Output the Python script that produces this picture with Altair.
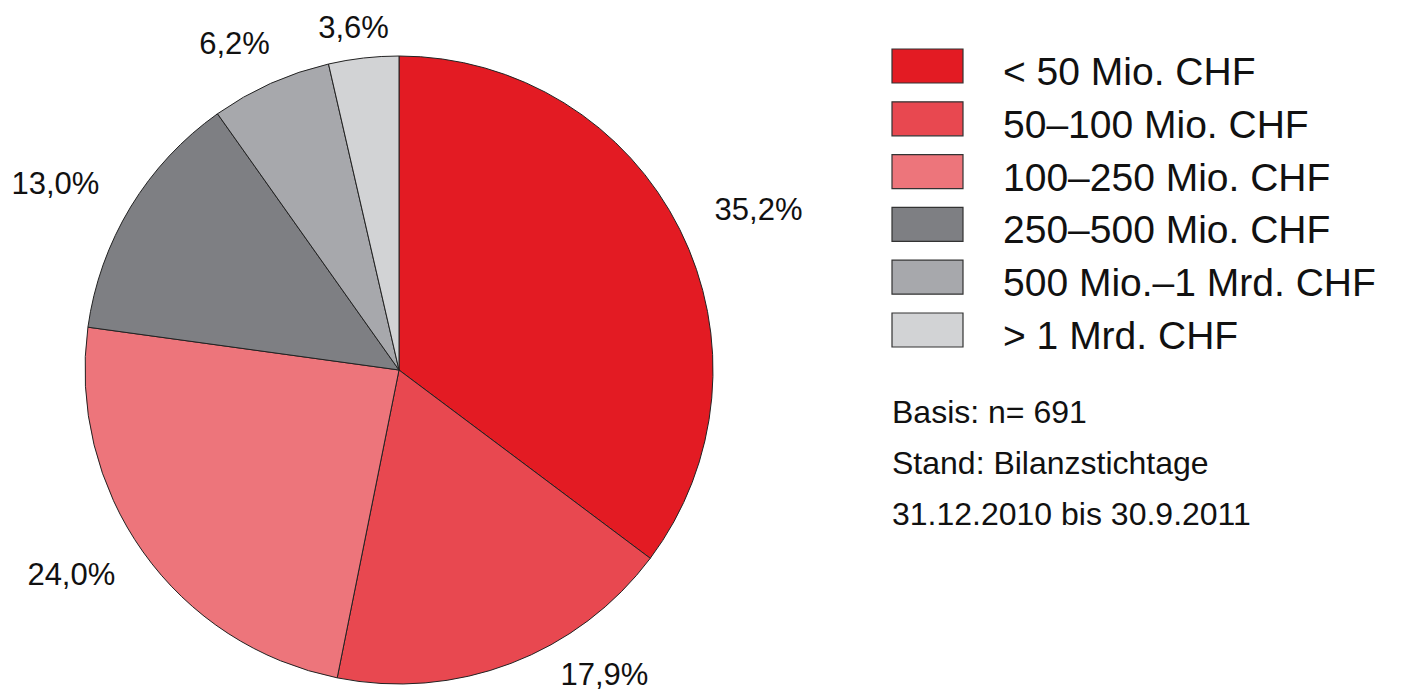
import altair as alt
import pandas as pd

categories = [
    "< 50 Mio. CHF",
    "50–100 Mio. CHF",
    "100–250 Mio. CHF",
    "250–500 Mio. CHF",
    "500 Mio.–1 Mrd. CHF",
    "> 1 Mrd. CHF",
]
shares = [35.2, 17.9, 24.0, 13.0, 6.2, 3.6]
colors = ["#E31B23", "#E84850", "#ED757B", "#7E7F83", "#A7A8AC", "#D2D3D5"]
notes = ["Basis: n= 691", "Stand: Bilanzstichtage", "31.12.2010 bis 30.9.2011"]

df = pd.DataFrame({
    "cat": categories,
    "value": shares,
    "order": list(range(len(categories))),
    "label": [f"{v:.1f}".replace(".", ",") + "%" for v in shares],
})

W, H = 1389, 686
CX, CY, R = 391, 362, 314
AX, AY = 402, 356
YMAX = 306
YMIN = -341
FONT = "Liberation Sans"

color_scale = alt.Scale(domain=categories, range=colors)

pie = alt.Chart(df).mark_arc(outerRadius=R, stroke="#222222", strokeWidth=1).encode(
    theta=alt.Theta("value:Q", stack=True),
    color=alt.Color("cat:N", scale=color_scale, legend=None),
    order=alt.Order("order:Q"),
    x=alt.value(CX),
    y=alt.value(CY),
)

labels = (
    alt.Chart(df)
    .transform_joinaggregate(total="sum(value)")
    .transform_window(cum="sum(value)", sort=[alt.SortField("order", order="ascending")], frame=[None, 0])
    .transform_calculate(t="2*PI*(datum.cum - datum.value/2)/datum.total")
    .transform_calculate(yb=f"min(-{AY}*cos(datum.t), {YMAX})")
    .transform_calculate(rx=f"(sin(datum.t) >= 0 ? 1 : -1) * {AX} * sqrt(max(0, 1 - pow(datum.yb/{AY}, 2)))",
                         ry=f"max(datum.yb, {YMIN})")
    .transform_calculate(px=f"{CX} + datum.rx", py=f"{CY} + datum.ry")
    .mark_text(font=FONT, fontSize=31, color="#111111", align="center", baseline="middle")
    .encode(
        x=alt.X("px:Q", scale=None, axis=None),
        y=alt.Y("py:Q", scale=None, axis=None),
        text="label:N",
    )
)

row_scale = alt.Scale(type="point", domain=categories, range=[58, 322], padding=0)

swatches = alt.Chart(df).mark_point(
    shape="M-1,-0.479H1V0.479H-1Z", size=71 * 71, filled=True, opacity=1,
    stroke="#333333", strokeWidth=1.2,
).encode(
    x=alt.value(919.5),
    y=alt.Y("cat:N", scale=row_scale, axis=None),
    fill=alt.Fill("cat:N", scale=color_scale, legend=None),
)

legend_text = alt.Chart(df).mark_text(
    font=FONT, fontSize=39, color="#111111", align="left", baseline="alphabetic", dy=19,
).encode(
    x=alt.value(995),
    y=alt.Y("cat:N", scale=row_scale, axis=None),
    text="cat:N",
)

note = alt.Chart(pd.DataFrame({"k": [0]})).mark_text(
    font=FONT, fontSize=32, color="#111111", align="left", baseline="alphabetic", lineHeight=51,
).encode(
    x=alt.value(884),
    y=alt.value(415),
    text=alt.value(notes),
)

chart = alt.layer(pie, labels, swatches, legend_text, note).resolve_scale(
    x="independent", y="independent", theta="independent", color="independent", fill="independent"
).properties(
    width=W, height=H, padding=0, autosize=alt.AutoSizeParams(type="none")
).configure_view(stroke=None)

chart.save("out.html", embed_options={"renderer": "svg", "actions": False})
